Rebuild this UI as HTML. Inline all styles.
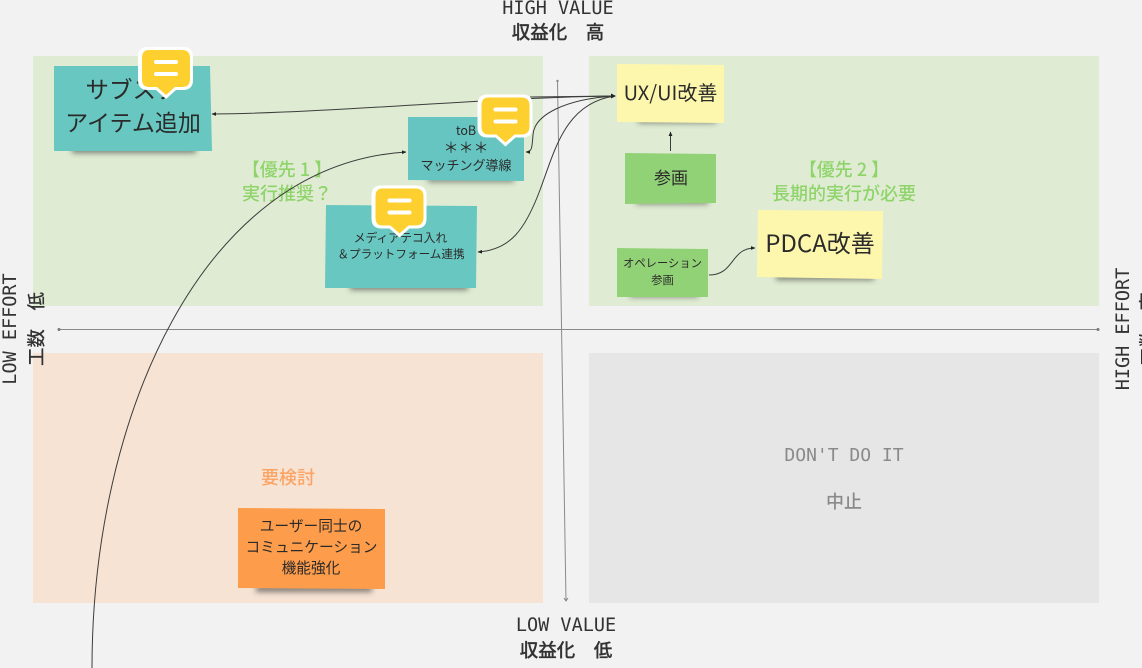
<!DOCTYPE html>
<html><head><meta charset="utf-8">
<style>
html,body{margin:0;padding:0;background:#f2f2f2;width:1142px;height:668px;overflow:hidden}
svg{display:block}
text{font-family:"Liberation Sans","Noto Sans CJK JP",sans-serif;text-anchor:middle;fill:#2a2a2a}
.m{font-family:"DejaVu Sans Mono","Liberation Mono","Noto Sans CJK JP",monospace;font-size:18.500px;fill:#333}
.j{font-family:"Noto Sans CJK JP",sans-serif}
.b{font-weight:500;font-size:18.500px;fill:#333;stroke:#333;stroke-width:.25}
.g{fill:#8fd46a;font-size:18px;font-weight:500}
.l{fill:none;stroke:#3c3c3c;stroke-width:1}
</style></head><body>
<svg width="1142" height="668" viewBox="0 0 1142 668" xmlns="http://www.w3.org/2000/svg">
<defs>
<filter id="s" x="-20%" y="-50%" width="140%" height="200%"><feGaussianBlur stdDeviation="3"/></filter>
<marker id="a" markerWidth="5" markerHeight="5" refX="4" refY="2.5" orient="auto"><path d="M0 .6L4.500 2.500L0 4.400z" fill="#222"/></marker>
</defs>
<rect width="1142" height="668" fill="#f2f2f2"/>
<rect x="33" y="56" width="510" height="250" fill="#dfecd3"/>
<rect x="589" y="56" width="510" height="250" fill="#dfecd3"/>
<rect x="33" y="353" width="510" height="250" fill="#f6e3d4"/>
<rect x="589" y="353" width="510" height="250" fill="#e6e6e6"/>

<!-- axes -->
<path d="M557.500 81L566 601" stroke="#8a8a8a" stroke-width="1" fill="none"/>
<circle cx="557.500" cy="81" r="1.200" fill="#888"/>
<path d="M564 598L566 601L568 598" fill="none" stroke="#777" stroke-width=".8"/>
<path d="M58 329.500H1099" stroke="#8a8a8a" stroke-width="1"/>
<circle cx="59" cy="329.500" r="1.500" fill="#777"/><circle cx="1098" cy="329.500" r="1.500" fill="#777"/>

<!-- axis labels -->
<text class="m" x="558" y="14">HIGH VALUE</text>
<text class="j b" x="558" y="39" xml:space="preserve">収益化　高</text>
<text class="m" x="566" y="631">LOW VALUE</text>
<text class="j b" x="566" y="657" xml:space="preserve">収益化　低</text>
<text class="m" transform="translate(16,329) rotate(-90)">LOW EFFORT</text>
<text class="j b" transform="translate(43,329) rotate(-90)" xml:space="preserve" style="stroke-width:0">工数　低</text>
<text class="m" transform="translate(1129,329) rotate(-90)">HIGH EFFORT</text>
<text class="j b" transform="translate(1155,329) rotate(-90)" xml:space="preserve" style="stroke-width:0">工数　高</text>

<!-- shadows -->
<g fill="#333" opacity=".6" filter="url(#s)">
<rect x="72" y="146" width="124" height="7"/>
<rect x="428" y="177" width="86" height="5"/>
<rect x="350" y="283" width="118" height="7"/>
<rect x="638" y="118" width="78" height="5"/>
<rect x="636" y="199" width="72" height="5"/>
<rect x="630" y="293" width="68" height="4"/>
<rect x="776" y="274" width="98" height="6"/>
<rect x="256" y="585" width="116" height="7"/>
</g>

<!-- stickies -->
<polygon points="54,66 210,66 212,151 54,151" fill="#68c7c0"/>
<polygon points="408,117 524,117 524,181 408,180" fill="#66c5c0"/>
<polygon points="326,205 477,206 476,288 325,288" fill="#68c7c0"/>
<polygon points="617,64 724,65 724,123 617,122" fill="#fdf7ad"/>
<polygon points="625,153 716,154 716,203 625,204" fill="#92d277"/>
<polygon points="617,248 708,249 708,297 617,297" fill="#92d277"/>
<polygon points="758,210 883,211 882,279 757,277" fill="#fdf7ad"/>
<polygon points="238,508 385,509 385,589 238,588" fill="#fd9c4a"/>

<!-- sticky text -->
<text class="j" x="132.500" y="98" font-size="23.500">サブスク</text>
<text class="j" x="133" y="131" font-size="23">アイテム追加</text>
<text class="j" x="466" y="135" font-size="12.500">toB</text>
<text class="j" x="466" y="153" font-size="15">＊＊＊</text>
<text class="j" x="466" y="170" font-size="13">マッチング導線</text>
<text class="j" x="400.500" y="242" font-size="11.800">メディアテコ入れ</text>
<text class="j" x="401" y="258" font-size="11.600">＆プラットフォーム連携</text>
<text class="j" x="670.500" y="100" font-size="20">UX/UI改善</text>
<text class="j" x="671" y="184" font-size="17">参画</text>
<text class="j" x="662.500" y="267" font-size="11.300">オペレーション</text>
<text class="j" x="662.500" y="284" font-size="11.300">参画</text>
<text class="j" x="820" y="252" font-size="24">PDCA改善</text>
<text class="j" x="311" y="531" font-size="14.700">ユーザー同士の</text>
<text class="j" x="311.500" y="552" font-size="14.700">コミュニケーション</text>
<text class="j" x="311" y="573" font-size="14.700">機能強化</text>

<!-- section labels -->
<text class="j g" x="287" y="176">【優先 1 】</text>
<text class="j g" x="287" y="200">実行推奨？</text>
<text class="j g" x="844" y="176">【優先 2 】</text>
<text class="j g" x="844" y="200">長期的実行が必要</text>
<text class="j" x="288" y="484" font-size="18" font-weight="500" style="fill:#fca364">要検討</text>
<text class="m" x="844" y="461" style="fill:#8a8a8a;font-size:18px">DON'T DO IT</text>
<text class="j" x="844" y="508" font-size="18" font-weight="500" style="fill:#8a8a8a">中止</text>

<!-- connectors -->
<path class="l" marker-end="url(#a)" d="M615 96C500 97 330 113 212 114"/>
<path class="l" d="M530 97L615 96"/>
<path class="l" marker-end="url(#a)" d="M615 96C565 99 534 115 533 135C532 148 532 152 526 152"/>
<path class="l" marker-end="url(#a)" d="M615 96C565 103 555 150 540 190C525 230 510 250 478 252"/>
<path class="l" marker-end="url(#a)" d="M92 668C92 420 200 165 406 152"/>
<path class="l" marker-end="url(#a)" d="M670.500 151V132"/>
<path class="l" marker-end="url(#a)" d="M709 275C735 275 730 248 755 248"/>
<path d="M611 93.500L616 96L611 98.500z" fill="#222"/>

<!-- comment badges -->
<g>
<path d="M148 47H183Q193 47 193 57V80Q193 90 183 90H176L166 99L156 90H148Q138 90 138 80V57Q138 47 148 47Z" fill="#fff"/>
<path d="M149 50H182Q190 50 190 58V79Q190 87 182 87H175L166 95L157 87H149Q142 87 142 79V58Q142 50 149 50Z" fill="#fdd02f"/>
<rect x="154" y="60" width="24" height="4" rx="2" fill="#fff"/><rect x="154" y="72" width="24" height="4" rx="2" fill="#fff"/>
</g>
<g transform="translate(339.500,47.500)">
<path d="M148 47H183Q193 47 193 57V80Q193 90 183 90H176L166 99L156 90H148Q138 90 138 80V57Q138 47 148 47Z" fill="#fff"/>
<path d="M149 50H182Q190 50 190 58V79Q190 87 182 87H175L166 95L157 87H149Q142 87 142 79V58Q142 50 149 50Z" fill="#fdd02f"/>
<rect x="154" y="60" width="24" height="4" rx="2" fill="#fff"/><rect x="154" y="72" width="24" height="4" rx="2" fill="#fff"/>
</g>
<g transform="translate(233.500,138.500)">
<path d="M148 47H183Q193 47 193 57V80Q193 90 183 90H176L166 99L156 90H148Q138 90 138 80V57Q138 47 148 47Z" fill="#fff"/>
<path d="M149 50H182Q190 50 190 58V79Q190 87 182 87H175L166 95L157 87H149Q142 87 142 79V58Q142 50 149 50Z" fill="#fdd02f"/>
<rect x="154" y="60" width="24" height="4" rx="2" fill="#fff"/><rect x="154" y="72" width="24" height="4" rx="2" fill="#fff"/>
</g>
</svg>
</body></html>
